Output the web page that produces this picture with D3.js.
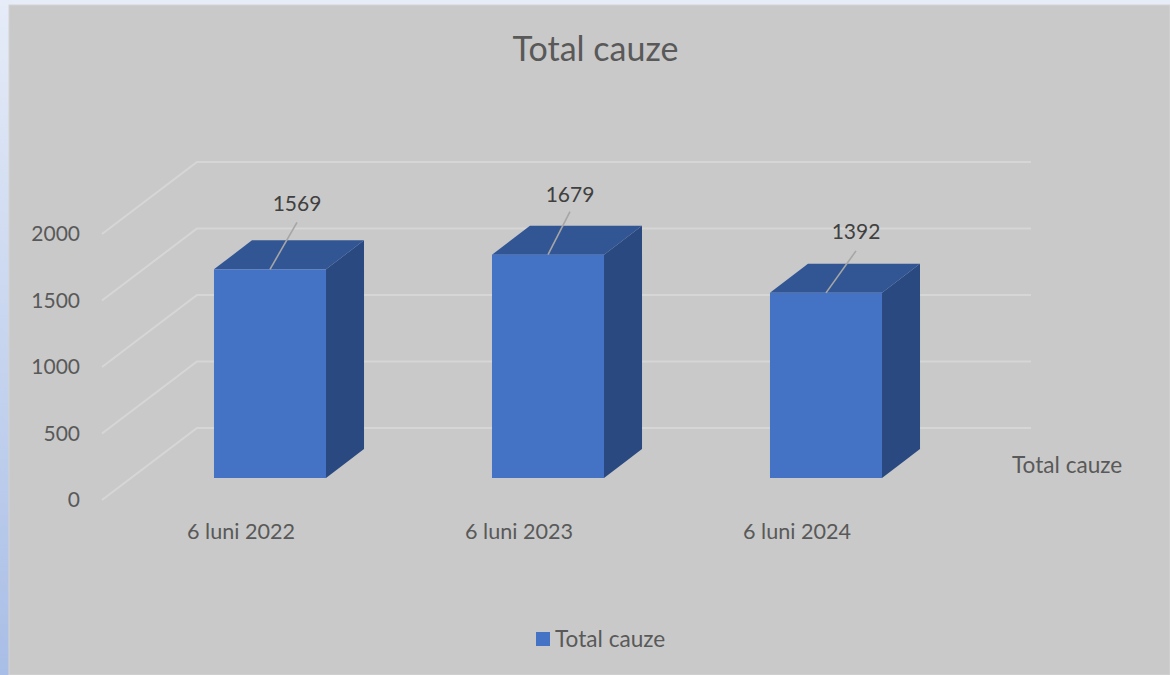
<!DOCTYPE html>
<html>
<head>
<meta charset="utf-8">
<script src="https://cdn.jsdelivr.net/npm/d3@7"></script>
<style>
html, body { margin: 0; padding: 0; background: #fff; overflow: hidden; }
text { font-family: Lato, "Open Sans", sans-serif; }
</style>
</head>
<body>
<div id="chart"></div>
<script>
var categories = ['6 luni 2022', '6 luni 2023', '6 luni 2024'];
var values = [1569, 1679, 1392];
var yTicks = [0, 500, 1000, 1500, 2000];
var seriesName = 'Total cauze';
var title = 'Total cauze';

var width = 1170,
    height = 675;

// floor depth of the fake 3d box, and where the bars stand in it
var floorDepth = {x: 95, y: -72},
    barShift = {x: 29, y: -22},
    barDepth = {x: 38, y: -29};

// the labels were dragged by hand in the original, so each one has its own nudge
var labelNudge = [
    {x: 27, lineY: -47, textY: -66},
    {x: 22, lineY: -43, textY: -60},
    {x: 30, lineY: -42, textY: -61}
];

var svg = d3.select('#chart')
    .append('svg')
        .attr('width', width)
        .attr('height', height);

var defs = svg.append('defs');
var bg = defs.append('linearGradient')
    .attr('id', 'pageBg')
    .attr('x1', 0).attr('y1', 0)
    .attr('x2', 0).attr('y2', 1);
bg.append('stop').attr('offset', '0%').attr('stop-color', '#e6ecf8');
bg.append('stop').attr('offset', '100%').attr('stop-color', '#a9bee6');

svg.append('rect')
    .attr('width', width)
    .attr('height', height)
    .attr('fill', 'url(#pageBg)');

svg.append('rect')
    .attr('x', 9)
    .attr('y', 5)
    .attr('width', width - 9)
    .attr('height', height - 5)
    .attr('fill', '#c9c9c9')
    .attr('stroke', '#d4d4d4')
    .attr('stroke-width', 1);

var x = d3.scaleBand()
    .domain(categories)
    .range([102, 936])
    .paddingInner(0.597)
    .paddingOuter(0.2985);

var y = d3.scaleLinear()
    .domain([0, 2000])
    .range([500, 234]);

// gridlines: up the side wall, then along the back wall
svg.append('g')
    .selectAll('path')
    .data(yTicks)
    .enter()
    .append('path')
        .attr('d', (d) => {
            var p = d3.path();
            p.moveTo(x.range()[0], y(d));
            p.lineTo(x.range()[0] + floorDepth.x, y(d) + floorDepth.y);
            p.lineTo(x.range()[1] + floorDepth.x, y(d) + floorDepth.y);
            return p.toString();
        })
        .attr('fill', 'none')
        .attr('stroke', '#d6d6d6')
        .attr('stroke-width', 2);

var yAxis = svg.append('g')
    .attr('transform', 'translate(80,0)')
    .call(d3.axisLeft(y).tickValues(yTicks).tickSize(0).tickPadding(0).tickFormat(d3.format('d')));
yAxis.select('.domain').remove();
yAxis.selectAll('text')
    .attr('dy', '0.32em')
    .style('font-size', '21px')
    .style('fill', '#595959');

var xAxis = svg.append('g')
    .attr('transform', 'translate(0,531)')
    .call(d3.axisBottom(x).tickSize(0).tickPadding(0));
xAxis.select('.domain').remove();
xAxis.selectAll('text')
    .attr('y', 0)
    .attr('dy', '0.35em')
    .style('font-size', '21.6px')
    .style('fill', '#595959');

// bars
var bars = svg.append('g')
    .selectAll('g')
    .data(categories.map((c, i) => ({category: c, value: values[i], nudge: labelNudge[i]})))
    .enter()
    .append('g')
        .attr('class', 'bar');

var barX = (d) => x(d.category) + barShift.x;
var barTop = (d) => y(d.value) + barShift.y;
var barBase = y(0) + barShift.y;

var poly = (pts) => d3.line()(pts) + 'Z';

bars.append('path')
    .attr('d', (d) => {
        var r = barX(d) + x.bandwidth();
        return poly([[r, barTop(d)], [r + barDepth.x, barTop(d) + barDepth.y],
            [r + barDepth.x, barBase + barDepth.y], [r, barBase]]);
    })
    .attr('fill', '#2a4980');

bars.append('path')
    .attr('d', (d) => {
        var l = barX(d), r = l + x.bandwidth();
        return poly([[l, barTop(d)], [l + barDepth.x, barTop(d) + barDepth.y],
            [r + barDepth.x, barTop(d) + barDepth.y], [r, barTop(d)]]);
    })
    .attr('fill', '#325594');

bars.append('rect')
    .attr('x', barX)
    .attr('y', barTop)
    .attr('width', x.bandwidth())
    .attr('height', (d) => barBase - barTop(d))
    .attr('fill', '#4472c4');

// leader lines and data labels
bars.append('line')
    .attr('x1', (d) => barX(d) + x.bandwidth() / 2)
    .attr('y1', barTop)
    .attr('x2', (d) => barX(d) + x.bandwidth() / 2 + d.nudge.x)
    .attr('y2', (d) => barTop(d) + d.nudge.lineY)
    .attr('stroke', '#a6a6a6')
    .attr('stroke-width', 1.6);

bars.append('text')
    .attr('x', (d) => barX(d) + x.bandwidth() / 2 + d.nudge.x)
    .attr('y', (d) => barTop(d) + d.nudge.textY)
    .attr('dy', '0.35em')
    .attr('text-anchor', 'middle')
    .style('font-size', '21px')
    .style('fill', '#404040')
    .text((d) => d.value);

svg.append('text')
    .attr('x', 595.5)
    .attr('y', 49)
    .attr('dy', '0.35em')
    .attr('text-anchor', 'middle')
    .style('font-size', '34px')
    .style('fill', '#595959')
    .text(title);

// series name on the depth axis
svg.append('text')
    .attr('x', 1012)
    .attr('y', 465)
    .attr('dy', '0.35em')
    .style('font-size', '22.6px')
    .style('fill', '#595959')
    .text(seriesName);

// legend
svg.append('rect')
    .attr('x', 536)
    .attr('y', 632)
    .attr('width', 14)
    .attr('height', 14)
    .attr('fill', '#4472c4');
svg.append('text')
    .attr('x', 555)
    .attr('y', 639)
    .attr('dy', '0.35em')
    .style('font-size', '22.6px')
    .style('fill', '#595959')
    .text(seriesName);
</script>
</body>
</html>
